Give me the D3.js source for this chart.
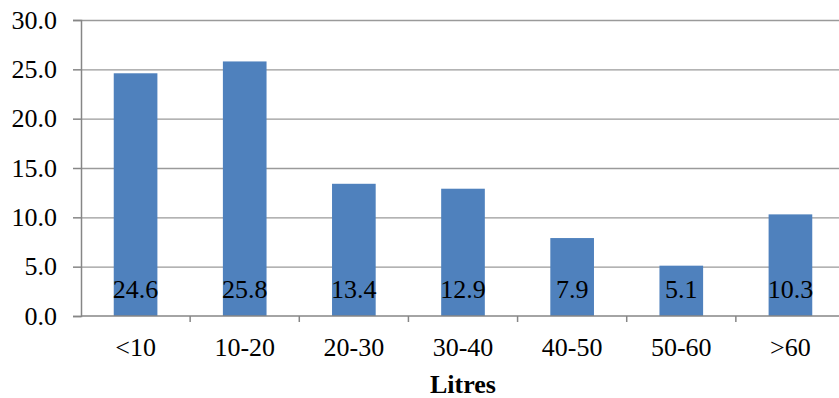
<!DOCTYPE html>
<html>
<head>
<meta charset="utf-8">
<script src="https://cdn.jsdelivr.net/npm/d3@7"></script>
<style>
  body { margin: 0; background: #fff; }
</style>
</head>
<body>
<div id="chart"></div>
<script>
"use strict";

var categories = ["<10", "10-20", "20-30", "30-40", "40-50", "50-60", ">60"];
var values = [24.6, 25.8, 13.4, 12.9, 7.9, 5.1, 10.3];
var yTicks = [0, 5, 10, 15, 20, 25, 30];
var xTitle = "Litres";

var width = 839, height = 398;
var margin = { top: 20, left: 81, bottom: 82 };
var plotRight = 845;   // the plot runs slightly past the right edge
var serif = "'Liberation Serif', 'Times New Roman', serif";

var svg = d3.select("#chart").append("svg")
    .attr("width", width)
    .attr("height", height)
    .style("display", "block");

var x = d3.scaleBand()
    .domain(categories)
    .range([margin.left, plotRight])
    .paddingInner(0.6)
    .paddingOuter(0.3);

var y = d3.scaleLinear()
    .domain([0, 30])
    .range([height - margin.bottom, margin.top]);

// horizontal gridlines
svg.append("g")
    .selectAll("line")
    .data(yTicks.slice(1))
    .enter().append("line")
    .attr("x1", margin.left)
    .attr("x2", plotRight)
    .attr("y1", function (d) { return y(d) + 0.5; })
    .attr("y2", function (d) { return y(d) + 0.5; })
    .attr("stroke", "#9a9a9a")
    .attr("stroke-width", 1.3);

// bars
svg.append("g")
    .selectAll("rect")
    .data(values)
    .enter().append("rect")
    .attr("x", function (d, i) { return x(categories[i]); })
    .attr("y", function (d) { return y(d); })
    .attr("width", x.bandwidth())
    .attr("height", function (d) { return y(0) - y(d); })
    .attr("fill", "#4f81bd");

// value labels inside the bars
svg.append("g")
    .selectAll("text")
    .data(values)
    .enter().append("text")
    .attr("x", function (d, i) { return x(categories[i]) + x.bandwidth() / 2; })
    .attr("y", 298)
    .attr("text-anchor", "middle")
    .style("font-family", serif)
    .style("font-size", "26px")
    .attr("fill", "#000")
    .text(function (d) { return d.toFixed(1); });

// y axis
var yAxis = svg.append("g")
    .attr("transform", "translate(" + margin.left + ",0)")
    .call(d3.axisLeft(y).tickValues(yTicks).tickFormat(d3.format(".1f")).tickSize(8).tickPadding(16));
yAxis.select(".domain").attr("stroke", "#868686").attr("stroke-width", 1.5);
yAxis.selectAll(".tick line").attr("stroke", "#868686").attr("stroke-width", 1.5);
yAxis.selectAll(".tick text")
    .style("font-family", serif)
    .style("font-size", "26px")
    .attr("fill", "#000");

// x axis, ticks on the band edges
var xAxis = svg.append("g")
    .attr("transform", "translate(0," + y(0) + ")");
xAxis.append("line")
    .attr("x1", margin.left)
    .attr("x2", plotRight)
    .attr("stroke", "#868686")
    .attr("stroke-width", 1.5);
var step = x.step();
xAxis.selectAll(".edge")
    .data(categories)
    .enter().append("line")
    .attr("class", "edge")
    .attr("x1", function (d, i) { return margin.left + step * (i + 1); })
    .attr("x2", function (d, i) { return margin.left + step * (i + 1); })
    .attr("y1", 0)
    .attr("y2", 6)
    .attr("stroke", "#868686")
    .attr("stroke-width", 1.5);
xAxis.selectAll(".cat")
    .data(categories)
    .enter().append("text")
    .attr("class", "cat")
    .attr("x", function (d) { return x(d) + x.bandwidth() / 2; })
    .attr("y", 40)
    .attr("text-anchor", "middle")
    .style("font-family", serif)
    .style("font-size", "26px")
    .attr("fill", "#000")
    .text(function (d) { return d; });

// axis title
svg.append("text")
    .attr("x", (margin.left + plotRight) / 2)
    .attr("y", 393)
    .attr("text-anchor", "middle")
    .style("font-family", serif)
    .style("font-size", "26px")
    .style("font-weight", "bold")
    .attr("fill", "#000")
    .text(xTitle);
</script>
</body>
</html>
